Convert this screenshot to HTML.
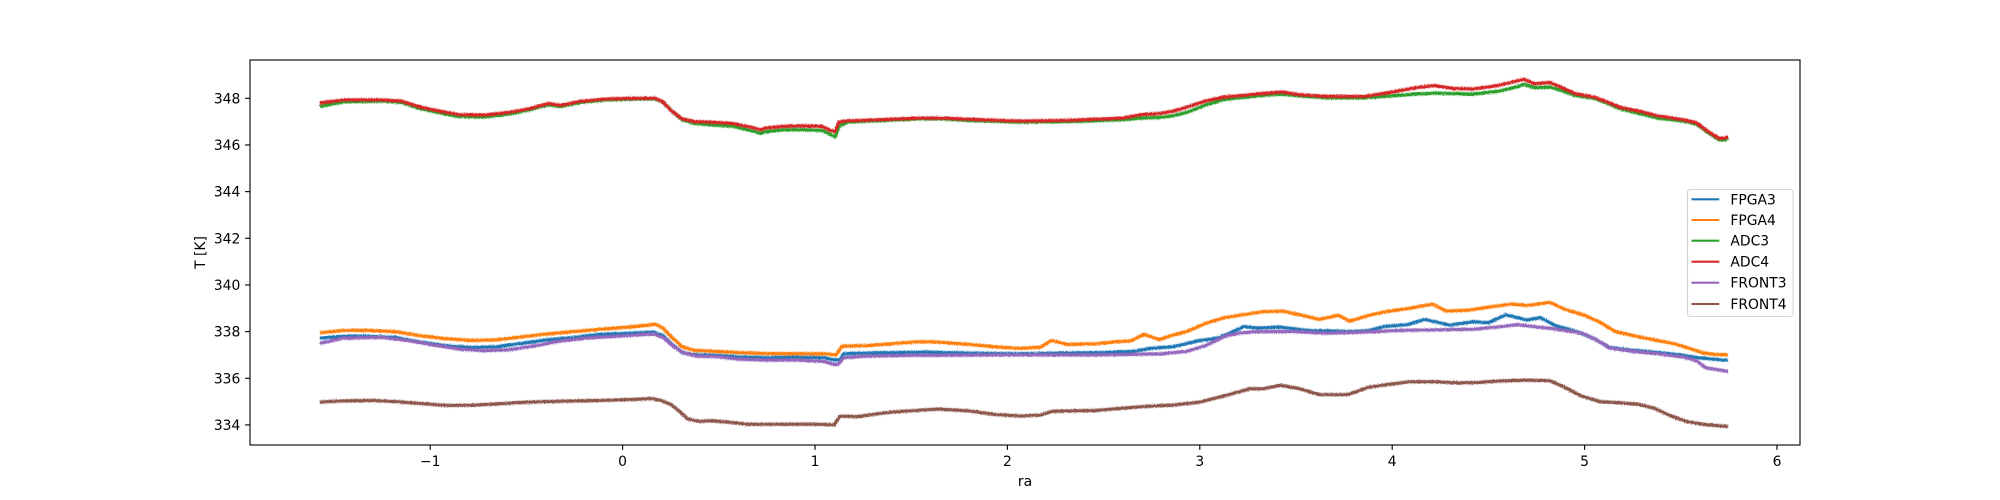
<!DOCTYPE html>
<html><head><meta charset="utf-8"><style>
html,body{margin:0;padding:0;background:#fff;}
svg{display:block;}
text{font-family:"DejaVu Sans","Liberation Sans",sans-serif;font-size:13.89px;fill:#000;}
</style></head><body>
<svg width="2000" height="500" viewBox="0 0 2000 500" xmlns="http://www.w3.org/2000/svg" xmlns:xlink="http://www.w3.org/1999/xlink">
<rect width="2000" height="500" fill="#fff"/>
<defs>
<clipPath id="ax"><rect x="250" y="60" width="1550" height="385"/></clipPath>
<filter id="jit" filterUnits="userSpaceOnUse" x="250" y="60" width="1550" height="385">
<feTurbulence type="fractalNoise" baseFrequency="0.9" numOctaves="1" seed="3" result="n"/>
<feDisplacementMap in="SourceGraphic" in2="n" scale="3" xChannelSelector="R" yChannelSelector="G"/>
</filter>
<polyline id="p1" vector-effect="non-scaling-stroke" points="-1.574,337.72 -1.45,337.8 -1.32,337.8 -1.18,337.75 -1.05,337.55 -0.92,337.4 -0.79,337.32 -0.65,337.35 -0.52,337.5 -0.39,337.65 -0.25,337.75 -0.12,337.88 0.01,337.92 0.16,337.98 0.21,337.82 0.25,337.5 0.31,337.1 0.36,337.02 0.48,336.98 0.6,336.92 0.74,336.88 0.88,336.9 1.05,336.88 1.1,336.78 1.13,336.8 1.15,337.05 1.27,337.08 1.57,337.12 1.8,337.08 2.07,337.05 2.27,337.08 2.5,337.1 2.66,337.15 2.74,337.28 2.86,337.35 2.99,337.6 3.09,337.72 3.16,337.95 3.23,338.22 3.3,338.15 3.41,338.2 3.56,338.05 3.79,338.0 3.88,338.05 3.96,338.22 4.08,338.3 4.17,338.52 4.3,338.28 4.42,338.42 4.5,338.38 4.59,338.72 4.7,338.5 4.77,338.6 4.85,338.25 4.96,338.0 5.05,337.7 5.13,337.32 5.25,337.2 5.36,337.12 5.5,337.0 5.59,336.88 5.72,336.78 5.746,336.78"/>
<polyline id="p2" vector-effect="non-scaling-stroke" points="-1.574,337.95 -1.45,338.05 -1.32,338.05 -1.18,338.0 -1.05,337.82 -0.92,337.7 -0.79,337.62 -0.65,337.65 -0.52,337.78 -0.39,337.9 -0.25,338.0 -0.12,338.1 0.01,338.18 0.14,338.28 0.17,338.32 0.21,338.15 0.25,337.8 0.31,337.35 0.37,337.2 0.48,337.15 0.61,337.1 0.74,337.06 0.9,337.05 1.05,337.05 1.11,337.0 1.14,337.38 1.27,337.4 1.4,337.48 1.54,337.57 1.64,337.55 1.8,337.45 1.93,337.35 2.07,337.28 2.17,337.33 2.23,337.62 2.31,337.45 2.46,337.48 2.57,337.57 2.64,337.6 2.71,337.88 2.79,337.66 2.86,337.85 2.93,338.0 3.03,338.35 3.13,338.6 3.22,338.72 3.33,338.85 3.43,338.88 3.52,338.72 3.62,338.52 3.72,338.7 3.78,338.45 3.89,338.72 3.97,338.86 4.09,339.0 4.21,339.18 4.28,338.88 4.4,338.92 4.5,339.05 4.62,339.18 4.7,339.12 4.82,339.25 4.9,338.95 5.0,338.7 5.08,338.4 5.16,338.0 5.28,337.78 5.39,337.6 5.48,337.45 5.62,337.08 5.68,337.02 5.746,337.0"/>
<polyline id="p3" vector-effect="non-scaling-stroke" points="-1.574,347.65 -1.448,347.85 -1.25,347.88 -1.15,347.82 -1.05,347.55 -0.951,347.38 -0.851,347.22 -0.719,347.2 -0.586,347.33 -0.487,347.5 -0.387,347.72 -0.321,347.65 -0.221,347.82 -0.089,347.93 0.077,347.97 0.17,347.97 0.209,347.85 0.256,347.45 0.309,347.08 0.375,346.92 0.475,346.85 0.574,346.8 0.673,346.6 0.72,346.5 0.739,346.56 0.839,346.65 0.939,346.65 1.038,346.62 1.08,346.45 1.104,346.35 1.125,346.8 1.17,346.98 1.27,347.02 1.536,347.12 1.668,347.12 1.8,347.05 2.066,346.98 2.331,347.0 2.596,347.08 2.7,347.15 2.795,347.18 2.861,347.25 2.927,347.38 3.027,347.7 3.126,347.95 3.292,348.1 3.424,348.18 3.524,348.1 3.656,348.02 3.855,348.02 3.988,348.1 4.121,348.18 4.22,348.22 4.32,348.2 4.42,348.18 4.552,348.3 4.651,348.5 4.685,348.6 4.74,348.45 4.82,348.48 4.884,348.32 4.95,348.12 5.05,348.0 5.116,347.8 5.182,347.55 5.282,347.35 5.381,347.15 5.514,347.02 5.58,346.9 5.647,346.5 5.7,346.22 5.73,346.22 5.746,346.3"/>
<polyline id="p4" vector-effect="non-scaling-stroke" points="-1.574,347.8 -1.448,347.93 -1.25,347.93 -1.15,347.88 -1.05,347.62 -0.951,347.45 -0.851,347.3 -0.719,347.28 -0.586,347.4 -0.487,347.55 -0.387,347.78 -0.321,347.7 -0.221,347.87 -0.089,347.97 0.077,348.0 0.17,348.0 0.209,347.85 0.256,347.45 0.309,347.12 0.375,347.0 0.475,346.97 0.574,346.92 0.673,346.75 0.72,346.65 0.739,346.72 0.839,346.8 0.939,346.82 1.038,346.8 1.08,346.62 1.104,346.58 1.125,346.98 1.17,347.04 1.27,347.06 1.536,347.15 1.668,347.15 1.8,347.1 2.066,347.02 2.331,347.06 2.596,347.15 2.7,347.3 2.795,347.35 2.861,347.45 2.927,347.6 3.027,347.88 3.126,348.05 3.292,348.18 3.424,348.27 3.524,348.15 3.656,348.08 3.855,348.08 3.988,348.25 4.121,348.45 4.22,348.55 4.32,348.42 4.42,348.4 4.552,348.55 4.651,348.75 4.685,348.82 4.74,348.62 4.82,348.68 4.884,348.45 4.95,348.2 5.05,348.05 5.116,347.85 5.182,347.62 5.282,347.45 5.381,347.25 5.514,347.08 5.58,346.95 5.647,346.55 5.7,346.28 5.73,346.3 5.746,346.35"/>
<polyline id="p5" vector-effect="non-scaling-stroke" points="-1.574,337.5 -1.45,337.72 -1.25,337.75 -1.12,337.62 -0.98,337.42 -0.85,337.25 -0.72,337.18 -0.59,337.22 -0.45,337.4 -0.32,337.6 -0.19,337.72 0.01,337.82 0.16,337.9 0.21,337.75 0.26,337.4 0.31,337.12 0.38,336.95 0.5,336.92 0.6,336.82 0.74,336.78 0.9,336.78 1.05,336.72 1.1,336.58 1.12,336.6 1.15,336.88 1.27,336.95 1.5,336.98 2.0,337.0 2.5,337.0 2.8,337.05 2.93,337.15 3.03,337.4 3.13,337.8 3.2,337.93 3.3,338.0 3.5,338.0 3.66,337.93 3.85,337.98 4.05,338.05 4.42,338.1 4.55,338.2 4.65,338.3 4.75,338.2 4.84,338.12 4.99,337.93 5.06,337.65 5.13,337.3 5.25,337.15 5.38,337.05 5.52,336.9 5.58,336.75 5.63,336.45 5.72,336.33 5.746,336.3"/>
<polyline id="p6" vector-effect="non-scaling-stroke" points="-1.574,334.98 -1.45,335.03 -1.31,335.05 -1.18,335.0 -1.05,334.92 -0.91,334.83 -0.78,334.85 -0.65,334.9 -0.51,334.97 -0.3,335.02 -0.1,335.05 0.08,335.1 0.15,335.13 0.2,335.05 0.25,334.88 0.3,334.55 0.34,334.25 0.4,334.15 0.46,334.18 0.55,334.12 0.65,334.03 0.8,334.03 1.0,334.03 1.1,334.0 1.13,334.38 1.22,334.35 1.3,334.45 1.4,334.55 1.54,334.63 1.64,334.68 1.8,334.6 1.93,334.45 2.07,334.38 2.17,334.42 2.23,334.58 2.33,334.6 2.46,334.62 2.6,334.72 2.73,334.8 2.86,334.85 3.0,334.98 3.13,335.25 3.26,335.55 3.33,335.55 3.42,335.7 3.52,335.55 3.62,335.3 3.77,335.3 3.88,335.62 3.99,335.75 4.09,335.85 4.22,335.85 4.35,335.8 4.45,335.82 4.55,335.88 4.7,335.92 4.82,335.9 4.9,335.6 4.98,335.25 5.08,335.0 5.18,334.95 5.28,334.88 5.36,334.72 5.45,334.38 5.53,334.15 5.62,334.02 5.746,333.93"/>
</defs>
<g clip-path="url(#ax)">
<g filter="url(#jit)">
<g transform="matrix(192.4,0,0,-23.33,622.6,8217.14)" fill="none" stroke-linejoin="round" stroke-linecap="butt">
<use href="#p1" xlink:href="#p1" stroke="#1f77b4" stroke-width="4.6" stroke-opacity="0.3"/>
<use href="#p1" xlink:href="#p1" stroke="#1f77b4" stroke-width="3"/>
<use href="#p2" xlink:href="#p2" stroke="#ff7f0e" stroke-width="4.6" stroke-opacity="0.3"/>
<use href="#p2" xlink:href="#p2" stroke="#ff7f0e" stroke-width="3"/>
<use href="#p3" xlink:href="#p3" stroke="#2ca02c" stroke-width="4.6" stroke-opacity="0.3"/>
<use href="#p3" xlink:href="#p3" stroke="#2ca02c" stroke-width="3"/>
<use href="#p4" xlink:href="#p4" stroke="#d62728" stroke-width="4.6" stroke-opacity="0.3"/>
<use href="#p4" xlink:href="#p4" stroke="#d62728" stroke-width="3"/>
<use href="#p5" xlink:href="#p5" stroke="#9467bd" stroke-width="4.6" stroke-opacity="0.3"/>
<use href="#p5" xlink:href="#p5" stroke="#9467bd" stroke-width="3"/>
<use href="#p6" xlink:href="#p6" stroke="#8c564b" stroke-width="4.6" stroke-opacity="0.3"/>
<use href="#p6" xlink:href="#p6" stroke="#8c564b" stroke-width="3"/>
</g>
</g>
</g>

<!-- axes frame -->
<rect x="250" y="60" width="1550" height="385" fill="none" stroke="#000" stroke-width="1.11"/>

<!-- y ticks -->
<g stroke="#000" stroke-width="1.11">
<line x1="245.1" y1="98.3" x2="250" y2="98.3"/>
<line x1="245.1" y1="144.96" x2="250" y2="144.96"/>
<line x1="245.1" y1="191.62" x2="250" y2="191.62"/>
<line x1="245.1" y1="238.28" x2="250" y2="238.28"/>
<line x1="245.1" y1="284.94" x2="250" y2="284.94"/>
<line x1="245.1" y1="331.6" x2="250" y2="331.6"/>
<line x1="245.1" y1="378.26" x2="250" y2="378.26"/>
<line x1="245.1" y1="424.92" x2="250" y2="424.92"/>
</g>
<g text-anchor="end">
<text x="240.3" y="103.3">348</text>
<text x="240.3" y="149.96">346</text>
<text x="240.3" y="196.62">344</text>
<text x="240.3" y="243.28">342</text>
<text x="240.3" y="289.94">340</text>
<text x="240.3" y="336.6">338</text>
<text x="240.3" y="383.26">336</text>
<text x="240.3" y="429.92">334</text>
</g>

<!-- x ticks -->
<g stroke="#000" stroke-width="1.11">
<line x1="430.2" y1="445" x2="430.2" y2="449.9"/>
<line x1="622.6" y1="445" x2="622.6" y2="449.9"/>
<line x1="815" y1="445" x2="815" y2="449.9"/>
<line x1="1007.4" y1="445" x2="1007.4" y2="449.9"/>
<line x1="1199.8" y1="445" x2="1199.8" y2="449.9"/>
<line x1="1392.2" y1="445" x2="1392.2" y2="449.9"/>
<line x1="1584.6" y1="445" x2="1584.6" y2="449.9"/>
<line x1="1777" y1="445" x2="1777" y2="449.9"/>
</g>
<g text-anchor="middle">
<text x="430.2" y="466">−1</text>
<text x="622.6" y="466">0</text>
<text x="815" y="466">1</text>
<text x="1007.4" y="466">2</text>
<text x="1199.8" y="466">3</text>
<text x="1392.2" y="466">4</text>
<text x="1584.6" y="466">5</text>
<text x="1777" y="466">6</text>
</g>

<!-- axis labels -->
<text x="1025" y="486" text-anchor="middle">ra</text>
<text transform="translate(205,252.5) rotate(-90)" text-anchor="middle">T [K]</text>

<!-- legend -->
<rect x="1687.5" y="189.5" width="105.5" height="127" rx="2.8" ry="2.8" fill="#fff" fill-opacity="0.8" stroke="#d6d6d6" stroke-width="1.11"/>
<g stroke-width="2.08">
<line x1="1691.5" y1="199.3" x2="1719.3" y2="199.3" stroke="#1f77b4"/>
<line x1="1691.5" y1="220" x2="1719.3" y2="220" stroke="#ff7f0e"/>
<line x1="1691.5" y1="240.7" x2="1719.3" y2="240.7" stroke="#2ca02c"/>
<line x1="1691.5" y1="261.7" x2="1719.3" y2="261.7" stroke="#d62728"/>
<line x1="1691.5" y1="282.7" x2="1719.3" y2="282.7" stroke="#9467bd"/>
<line x1="1691.5" y1="304" x2="1719.3" y2="304" stroke="#8c564b"/>
</g>
<text x="1730.4" y="204.3">FPGA3</text>
<text x="1730.4" y="225">FPGA4</text>
<text x="1730.4" y="245.7">ADC3</text>
<text x="1730.4" y="266.7">ADC4</text>
<text x="1730.4" y="287.7">FRONT3</text>
<text x="1730.4" y="309">FRONT4</text>
</svg>
</body></html>
